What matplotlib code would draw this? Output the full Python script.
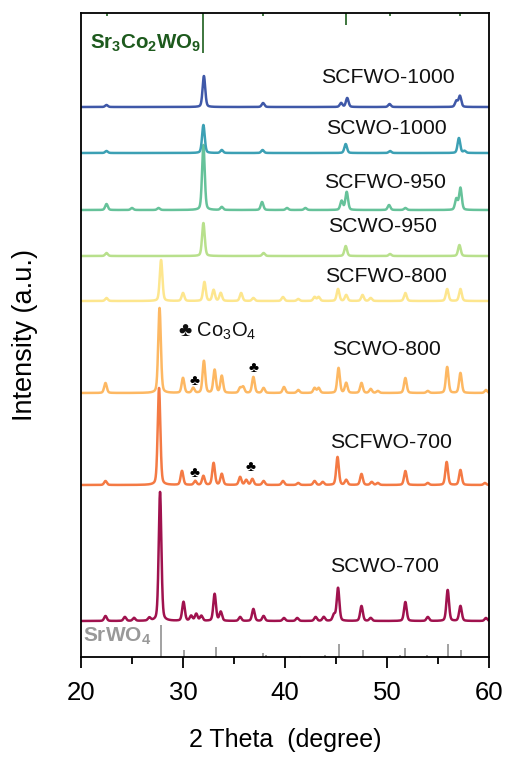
import numpy as np
import matplotlib
matplotlib.use("Agg")
import matplotlib.pyplot as plt
from matplotlib.ticker import MultipleLocator

plt.rcParams['font.family'] = ['Liberation Sans', 'DejaVu Sans']
plt.rcParams['mathtext.fontset'] = 'custom'
plt.rcParams['mathtext.rm'] = 'Liberation Sans'
plt.rcParams['mathtext.bf'] = 'Liberation Sans:bold'
plt.rcParams['mathtext.it'] = 'Liberation Sans:italic'

# peak positions (2theta) and heights (a.u.), bottom to top
scwo700_pos = [22.4, 24.3, 25.2, 26.7, 27.75, 30.05, 30.8, 31.3, 31.8, 33.1, 33.7, 35.6, 36.9, 37.9,
               39.9, 41.2, 43.0, 43.8, 44.8, 45.2, 47.5, 48.4, 51.8, 54.0, 55.95, 57.2, 59.7]
scwo700_int = [5, 4, 3, 3, 129, 19, 5, 7, 5, 27, 9, 4, 12, 5,
               3, 3, 4, 4, 6, 33, 15, 3, 19, 4, 31, 15, 3]

scfwo700_pos = [22.4, 27.65, 29.9, 31.2, 32.0, 33.0, 33.8, 35.6, 36.2, 36.8, 37.9, 39.8, 41.3, 42.9, 43.7,
                45.15, 46.0, 47.5, 48.5, 49.1, 51.8, 54.0, 55.85, 57.2, 59.6]
scfwo700_int = [4, 97, 14, 4, 9, 22, 11, 8, 5, 6, 4, 4, 2, 4, 3,
                28, 5, 11, 3, 2, 14, 2, 23, 15, 2]

scwo800_pos = [22.4, 27.7, 30.0, 31.0, 32.05, 33.1, 33.8, 35.6, 35.9, 36.9, 37.9, 39.9, 41.3, 42.9, 43.3,
               45.25, 46.0, 47.5, 48.4, 49.1, 51.8, 54.0, 55.9, 57.2, 59.7]
scwo800_int = [10, 85, 15, 5, 32, 23, 17, 5, 6, 16, 5, 6, 3, 5, 5,
               25, 10, 10, 4, 2, 15, 2, 26, 20, 3]

scfwo800_pos = [22.5, 27.85, 30.0, 32.1, 33.0, 33.7, 35.7, 36.9, 39.8, 41.3, 42.9, 43.3,
                45.2, 46.0, 47.6, 48.4, 51.8, 55.9, 57.2]
scfwo800_int = [3, 41, 8, 19, 11, 8, 8, 3, 4, 2, 4, 4,
                12, 6, 6, 3, 8, 12, 12]

scwo950_pos = [22.5, 32.0, 37.9, 45.95, 50.3, 57.1]
scwo950_int = [3, 33, 3, 10, 2, 11]

scfwo950_pos = [22.5, 25.0, 27.6, 32.0, 33.8, 37.75, 40.2, 42.0, 45.55, 46.05, 50.2, 51.8, 56.8, 57.2]
scfwo950_int = [6, 2, 2, 65, 3, 8, 2, 2, 9, 18, 5, 2, 11, 22]

scwo1000_pos = [22.5, 32.0, 33.8, 37.8, 45.95, 50.3, 57.05, 57.6]
scwo1000_int = [2, 28, 3, 3, 9, 2, 15, 2]

scfwo1000_pos = [22.5, 32.05, 37.85, 45.5, 46.1, 50.25, 56.8, 57.15]
scfwo1000_int = [2, 31, 4, 4, 9, 3, 6, 11]

labels = ['SCWO-700', 'SCFWO-700', 'SCWO-800', 'SCFWO-800',
          'SCWO-950', 'SCFWO-950', 'SCWO-1000', 'SCFWO-1000']
colors = ['#a0124e', '#f47a44', '#fdb863', '#fde68e',
          '#b8e08c', '#66c29a', '#3ca0b4', '#3f58a8']
offsets = [36, 172, 264, 356, 401, 447, 504, 550]
label_xy = [(49.8, 90), (50.4, 214), (49.9, 308), (49.9, 381),
            (49.6, 431), (49.85, 474), (49.9, 529), (50.1, 580)]

# reference patterns
srwo4_pos = [27.8, 30.1, 33.2, 37.8, 38.1, 41.5, 43.9, 45.3, 47.6, 51.3, 51.8, 53.9, 55.95, 57.25]
srwo4_int = [32, 7, 10, 4, 2, 1, 2, 13, 7, 2, 9, 2, 13, 7]
scwo_ref_pos = [22.5, 32.0, 37.8, 46.0, 50.3, 57.2]
scwo_ref_int = [3, 40, 3, 12, 3, 3]

all_pos = [scwo700_pos, scfwo700_pos, scwo800_pos, scfwo800_pos,
           scwo950_pos, scfwo950_pos, scwo1000_pos, scfwo1000_pos]
all_int = [scwo700_int, scfwo700_int, scwo800_int, scfwo800_int,
           scwo950_int, scfwo950_int, scwo1000_int, scfwo1000_int]

x = np.linspace(20, 60, 4001)


def pattern(pos, inten, w=0.13):
    y = np.zeros_like(x)
    for p, h in zip(pos, inten):
        g = np.exp(-0.5 * ((x - p) / w) ** 2)
        l = 1.0 / (1.0 + ((x - p) / (1.2 * w)) ** 2)
        y += h * (0.7 * g + 0.3 * l)
    return y


fig = plt.figure(figsize=(5.09, 7.6), dpi=100)
ax = fig.add_axes([81 / 509, 103 / 760, 408 / 509, 644 / 760])

for pos, inten, c, off, lab, (lx, ly) in zip(all_pos, all_int, colors, offsets, labels, label_xy):
    ax.plot(x, pattern(pos, inten) + off, color=c, lw=1.8)
    ax.text(lx, ly, lab, fontsize=15.3, ha='center', va='center', color='#111111')

# SrWO4 reference sticks
ax.vlines(srwo4_pos, 0, srwo4_int, color='#9a9a9a', lw=1.3)
ax.text(20.15, 21, r'$\mathbf{SrWO_4}$', fontsize=15, color='#999999', va='center')

# Sr3Co2WO9 reference sticks from the top
ax.vlines(scwo_ref_pos, 644, [644 - v for v in scwo_ref_int], color='#2e6b2e', lw=1.3)
ax.text(20.9, 614, r'$\mathbf{Sr_3Co_2WO_9}$', fontsize=14.8, color='#1d5a1d', va='center')

# Co3O4 markers
club = '\u2663'
ax.text(29.5, 326, club + r' $\mathrm{Co_3O_4}$', fontsize=14.5, va='center', color='#111111')
ax.text(31.1, 276, club, fontsize=11, ha='center', va='center')
ax.text(36.9, 289, club, fontsize=11, ha='center', va='center')
ax.text(31.1, 184, club, fontsize=11, ha='center', va='center')
ax.text(36.6, 190, club, fontsize=11, ha='center', va='center')

ax.set_xlim(20, 60)
ax.set_ylim(0, 644)
ax.set_yticks([])
ax.xaxis.set_major_locator(MultipleLocator(10))
ax.xaxis.set_minor_locator(MultipleLocator(5))
ax.tick_params(axis='x', which='major', direction='out', length=8, width=1.3, labelsize=18.5, pad=9)
ax.tick_params(axis='x', which='minor', direction='out', length=5, width=1.3)
for s in ax.spines.values():
    s.set_linewidth(1.3)
ax.set_xlabel('2 Theta  (degree)', fontsize=18, labelpad=17)
ax.set_ylabel('Intensity (a.u.)', fontsize=19.5, labelpad=31)

fig.savefig('out.png', dpi=100)
